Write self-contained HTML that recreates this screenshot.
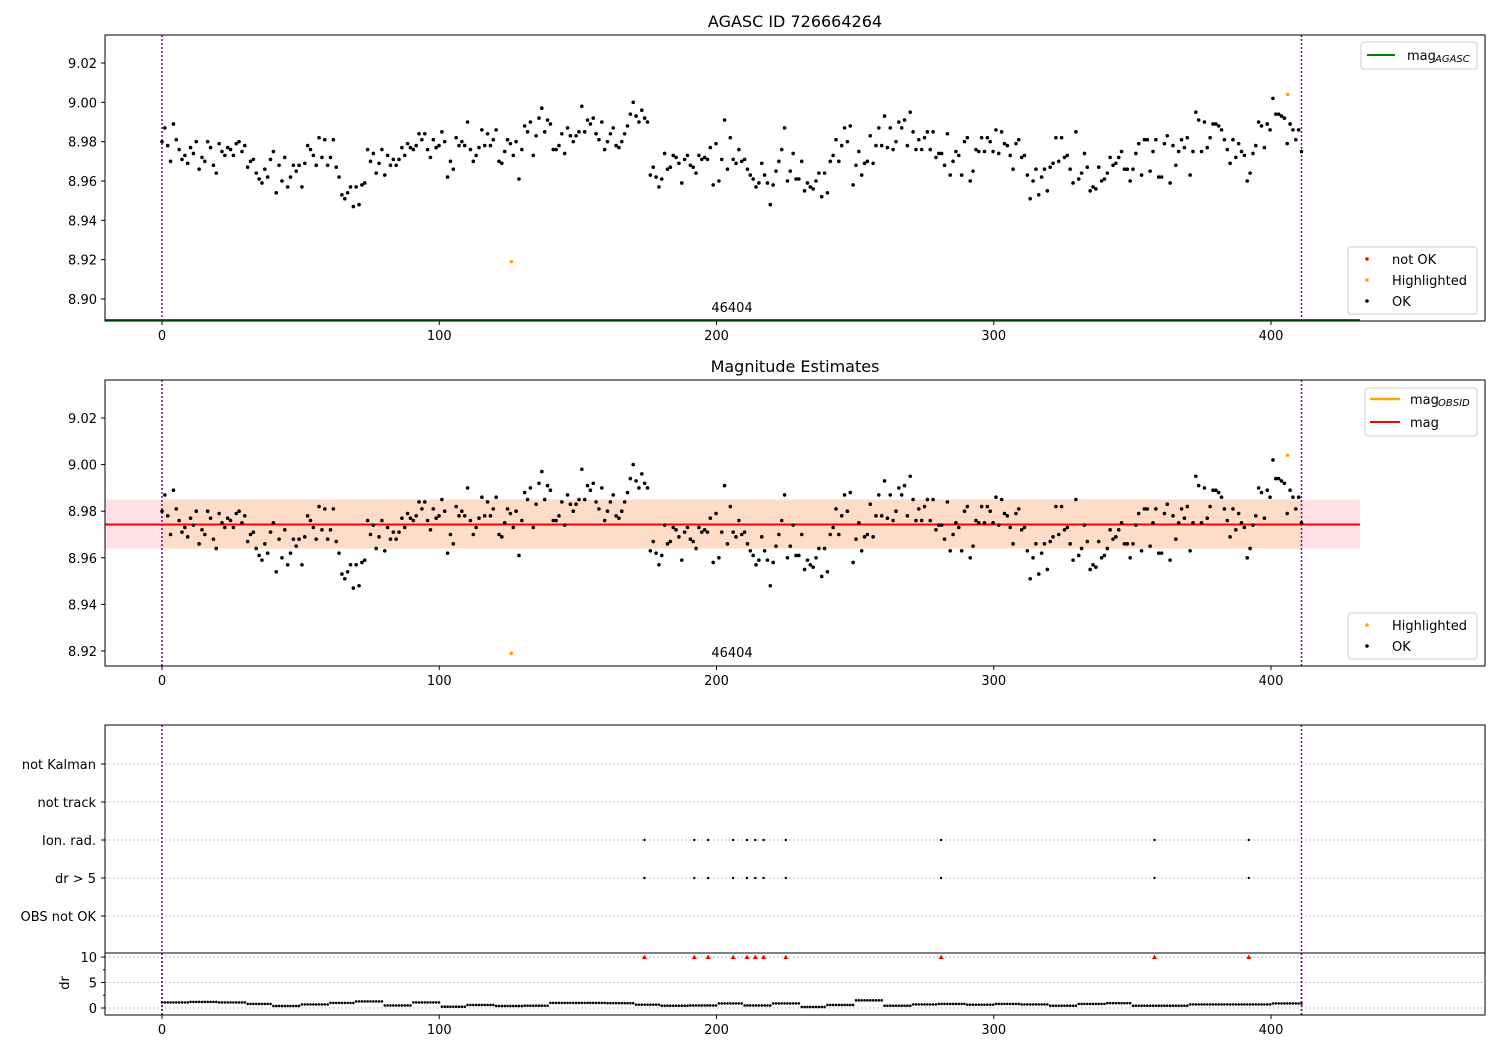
<!DOCTYPE html>
<html><head><meta charset="utf-8">
<style>
body{margin:0;background:#fff;}
svg{display:block;font-family:"DejaVu Sans","Liberation Sans",sans-serif;}
</style></head>
<body>
<svg id="fig" width="1500" height="1050" xmlns="http://www.w3.org/2000/svg"></svg>
<script>
const magA=[8.980,8.987,8.978,8.970,8.989,8.981,8.976,8.971,8.973,8.969,8.977,8.974,8.980,8.966,8.972,8.970,8.980,8.977,8.968,8.964,8.979,8.975,8.973,8.977,8.976,8.973,8.979,8.980,8.975,8.978,8.967,8.970,8.971,8.964,8.961,8.959,8.966,8.962,8.971,8.975,8.954,8.968,8.960,8.972,8.957,8.962,8.968,8.965,8.968,8.957,8.969,8.978,8.976,8.973,8.968,8.982,8.972,8.981,8.968,8.972,8.981,8.967,8.962,8.953,8.951,8.954,8.957,8.947,8.957,8.948,8.958,8.959,8.976,8.970,8.974,8.964,8.969,8.976,8.963,8.973,8.968,8.971,8.968,8.971,8.977,8.973,8.979,8.977,8.976,8.978,8.984,8.981,8.984,8.976,8.972,8.981,8.977,8.978,8.985,8.980,8.962,8.970,8.966,8.982];
const magB=[8.978,8.980,8.978,8.990,8.976,8.970,8.973,8.977,8.986,8.978,8.984,8.978,8.981,8.986,8.970,8.969,8.975,8.981,8.979,8.973,8.980,8.961,8.976,8.988,8.985,8.990,8.973,8.983,8.992,8.997,8.985,8.991,8.989,8.976,8.976,8.978,8.984,8.974,8.987,8.983,8.980,8.983,8.985,8.998,8.985,8.991,8.989,8.992,8.984,8.981,8.990,8.976,8.980,8.984,8.987,8.978,8.977,8.980,8.984,8.988,8.994,9.000,8.993,8.990,8.996,8.992,8.990,8.963,8.967,8.962,8.957,8.961,8.974,8.966,8.967,8.973,8.972,8.969,8.959,8.971,8.973,8.968,8.967,8.964,8.973,8.971,8.972,8.971,8.977,8.958,8.979,8.960,8.971,8.991,8.966,8.982,8.971,8.969,8.976,8.970];
const magC=[8.971,8.966,8.963,8.961,8.957,8.959,8.969,8.963,8.959,8.948,8.958,8.965,8.970,8.976,8.987,8.960,8.965,8.974,8.961,8.961,8.970,8.955,8.959,8.957,8.956,8.960,8.964,8.952,8.964,8.954,8.970,8.973,8.981,8.970,8.978,8.987,8.980,8.988,8.958,8.968,8.975,8.963,8.969,8.970,8.983,8.969,8.978,8.987,8.978,8.993,8.977,8.987,8.976,8.980,8.990,8.987,8.991,8.978,8.995,8.985,8.976,8.981,8.976,8.982,8.985,8.976,8.985,8.972,8.974,8.974,8.968,8.984,8.963,8.970,8.975,8.973,8.963,8.980,8.982,8.960,8.965,8.976,8.975,8.982,8.975,8.982,8.980,8.975,8.986,8.974,8.985,8.979,8.978,8.973,8.966,8.979,8.981,8.972,8.973,8.963];
const magD=[8.951,8.960,8.966,8.953,8.962,8.966,8.955,8.967,8.969,8.982,8.970,8.982,8.972,8.973,8.966,8.959,8.985,8.961,8.964,8.974,8.967,8.955,8.957,8.956,8.967,8.960,8.961,8.964,8.972,8.968,8.969,8.972,8.975,8.966,8.966,8.960,8.966,8.974,8.979,8.963,8.981,8.981,8.965,8.975,8.981,8.962,8.962,8.979,8.983,8.959,8.978,8.968,8.975,8.981,8.977,8.982,8.963,8.975,8.995,8.991,8.975,8.990,8.977,8.982,8.989,8.989,8.988,8.986,8.981,8.976,8.969,8.981,8.972,8.979,8.975,8.973,8.960,8.964,8.974,8.978,8.990,8.988,8.977,8.989,8.986,9.002,8.994,8.994,8.993,8.992,8.979,8.989,8.986,8.981,8.986,8.975];
const okMag=magA.concat(magB,magC,magD);
const hlIdx=[126,406];
const hlMag=[8.919,9.004];
const drChunk=[1.1,1.2,1.1,0.8,0.4,0.7,1.0,1.3,0.5,1.1,0.25,0.6,0.4,0.45,1.0,1.0,0.95,0.65,0.45,0.5,0.9,0.5,0.9,0.2,0.6,1.5,0.45,0.7,0.8,0.65,0.8,0.7,0.45,0.8,0.95,0.45,0.45,0.7,0.7,0.7,0.9,0.9];
const flagIdx=[174,192,197,206,211,214,217,225,281,358,392];
const magMean=8.9743, magLo=8.964, magHi=8.985, magAgasc=8.8888;
const xTicks=[0,100,200,300,400];
const yTicks=[8.90,8.92,8.94,8.96,8.98,9.00,9.02];
const yTicks2=[8.92,8.94,8.96,8.98,9.00,9.02];
const cats=["OBS not OK","dr > 5","Ion. rad.","not track","not Kalman"];
const drTicks=[0,5,10];
const lastIdx=411;

const NS="http://www.w3.org/2000/svg";
const svg=document.getElementById('fig');
function el(tag,attrs,parent){const e=document.createElementNS(NS,tag);for(const k in attrs)e.setAttribute(k,attrs[k]);(parent||svg).appendChild(e);return e;}
function txt(s,attrs,parent){const e=el('text',attrs,parent);e.textContent=s;return e;}
const L=105,R=1485;
const X=v=>162+(v)*2.7725;
const Y1=v=>63+(9.02-v)*1966.7;
const Y2=v=>418+(9.02-v)*2330;
const N=okMag.length;
const okX=okMag.map((m,i)=>i*lastIdx/(N-1));

function clip(id,y0,y1){const c=el('clipPath',{id:id});el('rect',{x:L,y:y0,width:R-L,height:y1-y0},c);}
clip('c1',35,321);clip('c2',380,666);clip('c3',953,1015);

function xaxis(yb,name){
  const g=el('g',{});
  
  
  xTicks.forEach(t=>{el('line',{x1:X(t),x2:X(t),y1:yb,y2:yb+4,stroke:'#000'},g);txt(String(t),{x:X(t),y:yb+19,'text-anchor':'middle','font-size':13},g);});
}
function vlines(y0,y1,g){[0,lastIdx].forEach(v=>el('line',{x1:X(v),x2:X(v),y1:y0,y2:y1,stroke:'purple','stroke-width':1.5,'stroke-dasharray':'2,2'},g));}

// ---------- Panel 1 ----------
txt("AGASC ID 726664264",{x:795,y:27,'text-anchor':'middle','font-size':16,});
const p1=el('g',{'clip-path':'url(#c1)'});


vlines(35,321,p1);
el('line',{x1:L,x2:1360,y1:Y1(magAgasc)-1,y2:Y1(magAgasc)-1,stroke:'green','stroke-width':2},p1);
okMag.forEach((m,i)=>{const c=el('circle',{cx:X(okX[i]),cy:Y1(m),r:1.8,fill:'#000'},p1);

});
hlMag.forEach((m,i)=>{const c=el('circle',{cx:X(hlIdx[i]),cy:Y1(m),r:1.8,fill:'orange'},p1);

});
txt("46404",{x:732,y:312,'text-anchor':'middle','font-size':13},p1);
el('rect',{x:L,y:35,width:R-L,height:286,fill:'none',stroke:'#000'});
yTicks.forEach(t=>{el('line',{x1:L-4,x2:L,y1:Y1(t),y2:Y1(t),stroke:'#000'});txt(t.toFixed(2),{x:L-8,y:Y1(t)+5,'text-anchor':'end','font-size':13});});
xaxis(321,'panel1-x-axis');
const lg1=el('g',{});


el('rect',{x:1361,y:42,width:116,height:27,rx:3,fill:'#fff',stroke:'#ccc'},lg1);
el('line',{x1:1367,x2:1395,y1:55,y2:55,stroke:'green','stroke-width':2},lg1);
txt("mag",{x:1407,y:60,'font-size':13},lg1);
txt("AGASC",{x:1435,y:62,'font-size':10,'font-style':'italic'},lg1);
function legendPts(y0,items,name){
  const g=el('g',{});
  
  
  el('rect',{x:1348,y:y0,width:129,height:items.length*21+4,rx:3,fill:'#fff',stroke:'#ccc'},g);
  items.forEach((it,i)=>{el('circle',{cx:1367,cy:y0+12+i*21,r:1.8,fill:it[1]},g);txt(it[0],{x:1392,y:y0+17+i*21,'font-size':13},g);});
}
legendPts(247,[["not OK","red"],["Highlighted","orange"],["OK","#000"]],'legend-status-1');

// ---------- Panel 2 ----------
txt("Magnitude Estimates",{x:795,y:372,'text-anchor':'middle','font-size':16,});
const p2=el('g',{'clip-path':'url(#c2)'});


el('rect',{x:L,y:Y2(magHi),width:1360-L,height:Y2(magLo)-Y2(magHi),fill:'#ffe0e6'},p2);
el('rect',{x:X(0),y:Y2(magHi),width:X(lastIdx)-X(0),height:Y2(magLo)-Y2(magHi),fill:'#ffdcc8'},p2);
el('line',{x1:X(0),x2:X(lastIdx),y1:Y2(magMean),y2:Y2(magMean),stroke:'orange','stroke-width':2},p2);
el('line',{x1:L,x2:1360,y1:Y2(magMean),y2:Y2(magMean),stroke:'red','stroke-width':2},p2);
vlines(380,666,p2);
okMag.forEach((m,i)=>{const c=el('circle',{cx:X(okX[i]),cy:Y2(m),r:1.8,fill:'#000'},p2);

});
hlMag.forEach((m,i)=>{const c=el('circle',{cx:X(hlIdx[i]),cy:Y2(m),r:1.8,fill:'orange'},p2);

});
txt("46404",{x:732,y:657,'text-anchor':'middle','font-size':13},p2);
el('rect',{x:L,y:380,width:R-L,height:286,fill:'none',stroke:'#000'});
yTicks2.forEach(t=>{el('line',{x1:L-4,x2:L,y1:Y2(t),y2:Y2(t),stroke:'#000'});txt(t.toFixed(2),{x:L-8,y:Y2(t)+5,'text-anchor':'end','font-size':13});});
xaxis(666,'panel2-x-axis');
const lg2=el('g',{});


el('rect',{x:1365,y:388,width:112,height:48,rx:3,fill:'#fff',stroke:'#ccc'},lg2);
el('line',{x1:1370,x2:1400,y1:399,y2:399,stroke:'orange','stroke-width':2.5},lg2);
txt("mag",{x:1410,y:404,'font-size':13},lg2);
txt("OBSID",{x:1438,y:406,'font-size':10,'font-style':'italic'},lg2);
el('line',{x1:1370,x2:1400,y1:422,y2:422,stroke:'red','stroke-width':2},lg2);
txt("mag",{x:1410,y:427,'font-size':13},lg2);
legendPts(613,[["Highlighted","orange"],["OK","#000"]],'legend-status-2');

// ---------- Panel 3 ----------
const catY=i=>916-i*38;
const p3=el('g',{});


cats.forEach((c,i)=>{el('line',{x1:L,x2:R,y1:catY(i),y2:catY(i),stroke:'#b0b0b0','stroke-dasharray':'1.5,2.5'},p3);
el('line',{x1:L-4,x2:L,y1:catY(i),y2:catY(i),stroke:'#000'},p3);
txt(c,{x:L-9,y:catY(i)+5,'text-anchor':'end','font-size':13},p3);});
vlines(725,1015,p3);
flagIdx.forEach(v=>{[1,2].forEach(r=>{const c=el('circle',{cx:X(v),cy:catY(r),r:1.2,fill:'#000'},p3);

});});
el('rect',{x:L,y:725,width:R-L,height:228,fill:'none',stroke:'#000'});
const DY=v=>1008-v*5.1;
const p4=el('g',{'clip-path':'url(#c3)'});


drTicks.forEach(t=>el('line',{x1:L,x2:R,y1:DY(t),y2:DY(t),stroke:'#b0b0b0','stroke-dasharray':'1.5,2.5'},p4));
vlines(953,1015,p4);
okX.forEach((xv,i)=>{const d=drChunk[Math.min(drChunk.length-1,Math.floor(xv/10))];
const c=el('circle',{cx:X(xv),cy:DY(d),r:1.3,fill:'#000'},p4);

});
flagIdx.forEach(v=>{const y=DY(10);const p=el('polygon',{points:`${X(v)-2.5},${y+2} ${X(v)+2.5},${y+2} ${X(v)},${y-2.5}`,fill:'red'},p4);

});
el('rect',{x:L,y:953,width:R-L,height:62,fill:'none',stroke:'#000'});
drTicks.forEach(t=>{el('line',{x1:L-4,x2:L,y1:DY(t),y2:DY(t),stroke:'#000'});txt(String(t),{x:L-8,y:DY(t)+5,'text-anchor':'end','font-size':13});});
[2.5,7.5].forEach(t=>el('line',{x1:L-2,x2:L,y1:DY(t),y2:DY(t),stroke:'#000'}));
txt("dr",{x:0,y:0,'font-size':13,'text-anchor':'middle',transform:'translate(69,983) rotate(-90)',});
xaxis(1015,'panel3-x-axis');
</script>
</body></html>
